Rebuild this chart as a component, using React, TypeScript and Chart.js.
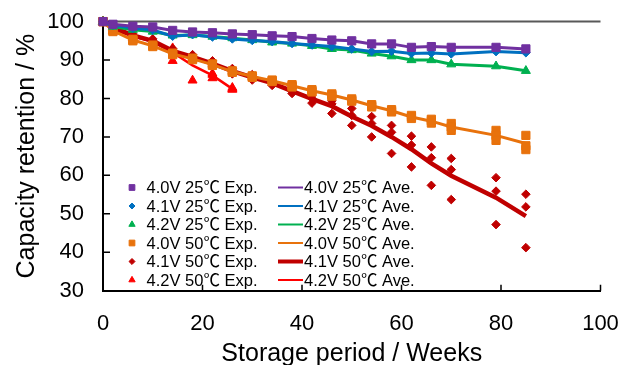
import React, { useEffect, useRef } from 'react';
import { Chart, registerables } from 'chart.js';
import { drawPoint } from 'chart.js/helpers';

Chart.register(...registerables);

// ---------- data ----------
const weeks = [0, 2, 6, 10, 14, 18, 22, 26, 30, 34, 38, 42, 46, 50, 54, 58, 62, 66, 70, 79, 85];
const weeks42V50 = [0, 2, 6, 10, 14, 18, 22, 26];
const xTickValues = [0, 20, 40, 60, 80, 100];
const yTickValues = [30, 40, 50, 60, 70, 80, 90, 100];

const expLabels = ['4.0V 25℃ Exp.', '4.1V 25℃ Exp.', '4.2V 25℃ Exp.', '4.0V 50℃ Exp.', '4.1V 50℃ Exp.', '4.2V 50℃ Exp.'];
const aveLabels = ['4.0V 25℃ Ave.', '4.1V 25℃ Ave.', '4.2V 25℃ Ave.', '4.0V 50℃ Ave.', '4.1V 50℃ Ave.', '4.2V 50℃ Ave.'];

// 25 °C series
const v40_25 = [100, 99.3, 98.8, 98.6, 97.7, 97.3, 97.1, 96.8, 96.6, 96.3, 96.1, 95.6, 95.2, 95.0, 94.2, 94.2, 93.3, 93.5, 93.3, 93.3, 92.9];
const v41_25 = [100, 99.1, 98.3, 97.8, 96.2, 96.6, 96.0, 95.5, 95.1, 94.8, 94.3, 93.9, 93.5, 92.9, 92.2, 92.3, 91.7, 91.8, 91.6, 92.2, 91.9];
const v42_25 = [100, 98.7, 97.9, 97.4, 96.4, 96.5, 96.1, 95.7, 95.2, 94.6, 94.3, 93.7, 92.9, 92.6, 91.7, 91.0, 90.0, 90.0, 88.9, 88.4, 87.2];

// 4.0V 50 °C (three cells + average)
const v40_50_a = [100, 97.8, 95.4, 93.9, 91.8, 90.5, 89.0, 87.2, 85.9, 84.8, 83.6, 82.3, 81.2, 79.9, 78.4, 77.1, 75.6, 74.6, 73.5, 71.7, 70.4];
const v40_50_b = [100, 97.6, 95.2, 93.7, 91.6, 90.3, 88.8, 87.0, 85.7, 84.6, 83.3, 82.0, 80.9, 79.6, 78.1, 76.8, 75.2, 74.2, 72.6, 70.4, 67.7];
const v40_50_c = [100, 97.4, 95.0, 93.5, 91.4, 90.1, 88.6, 86.8, 85.5, 84.4, 83.0, 81.7, 80.6, 79.3, 77.8, 76.5, 74.8, 73.6, 71.7, 69.1, 66.7];
const v40_50_ave = [100, 97.6, 95.2, 93.7, 91.6, 90.3, 88.8, 87.0, 85.7, 84.6, 83.3, 82.0, 80.9, 79.6, 78.1, 76.8, 75.2, 74.1, 72.6, 70.4, 68.3];

// 4.1V 50 °C (three cells + average)
const v41_50_a = [100, 98.8, 96.8, 95.5, 93.0, 91.4, 89.8, 87.8, 86.2, 84.6, 82.6, 80.8, 79.4, 77.4, 75.3, 73.0, 70.2, 67.4, 64.4, 59.4, 55.1];
const v41_50_b = [100, 98.5, 96.4, 95.0, 92.4, 90.8, 89.2, 87.2, 85.6, 84.0, 81.9, 80.0, 78.6, 75.6, 73.5, 71.2, 67.9, 64.6, 61.5, 55.9, 51.8];
const v41_50_c = [100, 98.2, 96.0, 94.5, 91.8, 90.2, 88.4, 86.4, 84.8, 83.4, 81.3, 78.8, 76.1, 73.0, 70.0, 65.7, 62.2, 57.4, 53.7, 47.2, 41.2];
const v41_50_ave = [100, 98.5, 96.4, 95.0, 92.4, 90.8, 89.1, 87.1, 85.5, 84.0, 81.9, 79.9, 78.0, 75.3, 72.9, 70.0, 66.8, 63.1, 59.9, 54.2, 49.4];

// 4.2V 50 °C (three cells + average)
const v42_50_a = [100, 98.4, 96.6, 95.2, 93.1, 90.6, 86.5, 82.8];
const v42_50_b = [100, 98.0, 96.2, 94.8, 92.5, 90.4, 86.2, 82.5];
const v42_50_c = [100, 97.6, 95.8, 94.4, 89.8, 84.7, 85.3, 82.3];
const v42_50_ave = [100, 98.0, 96.2, 94.8, 92.0, 88.6, 86.0, 82.5];

// ---------- styles ----------
const colors = ['#7030A0', '#0070C0', '#00B050', '#E8720C', '#C00000', '#FF0000'];
const pointStyles = ['rect', 'rectRot', 'triangle', 'rect', 'rectRot', 'triangle'];
const pointRadii = [5.8, 4.3, 5.2, 5.8, 4.3, 5.2];
const lineWidths = [3, 3, 3, 3, 4.5, 2.5];
const legendLineWidths = [2, 2, 2, 2, 4, 2];
const FONT = '"Liberation Sans", Arial, "Noto Sans CJK JP", sans-serif';

const pts = (xs: number[], ...ys: number[][]) => {
  const out: { x: number; y: number }[] = [];
  ys.forEach((arr) => arr.forEach((v, i) => out.push({ x: xs[i], y: v })));
  return out;
};

const expData = [
  pts(weeks, v40_25),
  pts(weeks, v41_25),
  pts(weeks, v42_25),
  pts(weeks, v40_50_a, v40_50_b, v40_50_c),
  pts(weeks, v41_50_a, v41_50_b, v41_50_c),
  pts(weeks42V50, v42_50_a, v42_50_b, v42_50_c),
];
const aveData = [
  pts(weeks, v40_25),
  pts(weeks, v41_25),
  pts(weeks, v42_25),
  pts(weeks, v40_50_ave),
  pts(weeks, v41_50_ave),
  pts(weeks42V50, v42_50_ave),
];

const tickMarksPlugin = {
  id: 'tickMarks',
  beforeDatasetsDraw(chart: any) {
    const { ctx, chartArea, scales } = chart;
    const xs = scales.x;
    const ys = scales.y;
    ctx.save();
    ctx.strokeStyle = '#595959';
    ctx.lineWidth = 2;
    const yt = ys.getPixelForValue(100);
    ctx.beginPath();
    ctx.moveTo(chartArea.left, yt);
    ctx.lineTo(chartArea.right, yt);
    ctx.stroke();
    ctx.strokeStyle = '#000';
    ctx.lineWidth = 1.5;
    ctx.beginPath();
    yTickValues.forEach((v) => {
      const py = ys.getPixelForValue(v);
      ctx.moveTo(chartArea.left, py);
      ctx.lineTo(chartArea.left + 7, py);
    });
    xTickValues.forEach((v) => {
      const px = xs.getPixelForValue(v);
      ctx.moveTo(px, chartArea.bottom);
      ctx.lineTo(px, chartArea.bottom - 6);
    });
    ctx.stroke();
    ctx.restore();
  },
};

const legendPlugin = {
  id: 'twoColLegend',
  afterDraw(chart: any) {
    const { ctx, chartArea } = chart;
    const left = chartArea.left;
    ctx.save();
    ctx.font = `16.5px ${FONT}`;
    ctx.textBaseline = 'middle';
    ctx.textAlign = 'left';
    for (let i = 0; i < 6; i++) {
      const y = 187.5 + i * 18.5;
      ctx.fillStyle = colors[i];
      ctx.strokeStyle = colors[i];
      ctx.lineWidth = 1;
      drawPoint(ctx, { pointStyle: pointStyles[i], radius: pointRadii[i] * 0.7, rotation: 0, borderWidth: 1 } as any, left + 29, y);
      ctx.fillStyle = '#000';
      ctx.fillText(expLabels[i], left + 43.5, y + 1);
      ctx.strokeStyle = colors[i];
      ctx.lineWidth = legendLineWidths[i];
      ctx.beginPath();
      ctx.moveTo(left + 175, y);
      ctx.lineTo(left + 200, y);
      ctx.stroke();
      ctx.fillStyle = '#000';
      ctx.fillText(aveLabels[i], left + 201, y + 1);
    }
    ctx.restore();
  },
};

export default function App() {
  const ref = useRef<HTMLCanvasElement | null>(null);
  useEffect(() => {
    if (!ref.current) return;
    const datasets: any[] = [];
    for (let i = 0; i < 6; i++) {
      datasets.push({
        label: expLabels[i],
        data: expData[i],
        showLine: false,
        pointStyle: pointStyles[i],
        pointRadius: pointRadii[i],
        pointBackgroundColor: colors[i],
        pointBorderColor: colors[i],
        pointBorderWidth: 1,
        backgroundColor: colors[i],
        borderColor: colors[i],
        clip: false,
        order: i * 2,
      });
    }
    for (let i = 0; i < 6; i++) {
      datasets.push({
        label: aveLabels[i],
        data: aveData[i],
        showLine: true,
        pointRadius: 0,
        borderColor: colors[i],
        backgroundColor: colors[i],
        borderWidth: lineWidths[i],
        tension: 0,
        fill: false,
        clip: false,
        order: i * 2 + 1,
      });
    }
    const chart = new Chart(ref.current, {
      type: 'line',
      data: { datasets },
      plugins: [tickMarksPlugin, legendPlugin],
      options: {
        animation: false,
        responsive: false,
        maintainAspectRatio: false,
        layout: { padding: { top: 21.6, right: 21.5, left: 0, bottom: 0 } },
        plugins: { legend: { display: false }, tooltip: { enabled: false } },
        scales: {
          x: {
            type: 'linear',
            min: 0,
            max: 100,
            afterFit: (s: any) => { s.height = 74.3; s.paddingLeft = 0; s.paddingRight = 0; },
            afterBuildTicks: (s: any) => { s.ticks = xTickValues.map((v) => ({ value: v })); },
            grid: { display: false },
            border: { display: true, color: '#000', width: 2 },
            ticks: { color: '#000', font: { family: FONT, size: 22 }, padding: 12, maxRotation: 0 },
            title: {
              display: true,
              text: 'Storage period / Weeks',
              color: '#000',
              font: { family: FONT, size: 25, lineHeight: 0.9 },
              padding: { top: 0, bottom: 0 },
            },
          },
          y: {
            type: 'linear',
            min: 30,
            max: 100,
            afterFit: (s: any) => { s.width = 103; s.paddingTop = 0; s.paddingBottom = 0; },
            afterBuildTicks: (s: any) => { s.ticks = yTickValues.map((v) => ({ value: v })); },
            grid: { display: false },
            border: { display: true, color: '#000', width: 2 },
            ticks: { color: '#000', font: { family: FONT, size: 22 }, padding: 11 },
            title: {
              display: true,
              text: 'Capacity retention / %',
              color: '#000',
              font: { family: FONT, size: 25, lineHeight: 1 },
              padding: { top: 15, bottom: 0 },
            },
          },
        },
      } as any,
    });
    return () => chart.destroy();
  }, []);
  return (
    <div style={{ position: 'absolute', left: 0, top: 0, width: 622, height: 365, background: '#fff' }}>
      <canvas ref={ref} width={622} height={365} style={{ display: 'block' }} />
    </div>
  );
}
